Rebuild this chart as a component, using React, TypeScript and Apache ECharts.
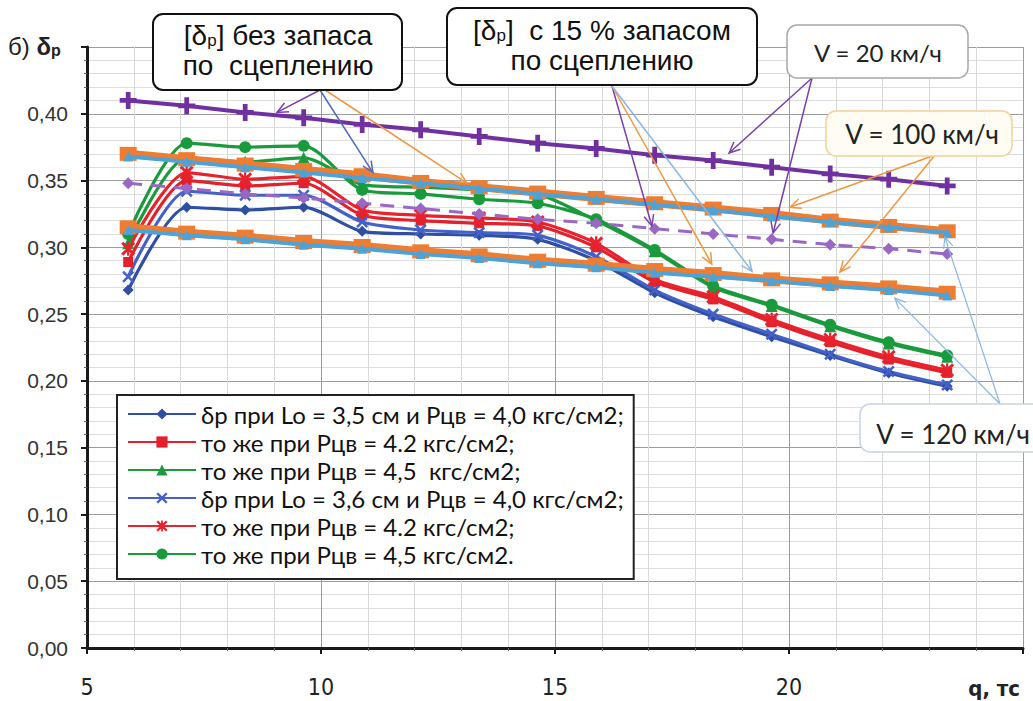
import React, { useEffect, useRef } from 'react';
import * as echarts from 'echarts';

// ---- data ----
const qValues = [5.88, 7.13, 8.38, 9.63, 10.88, 12.13, 13.38, 14.63, 15.88, 17.13, 18.38, 19.63, 20.88, 22.13, 23.38];

const lo35p40 = [0.268, 0.330, 0.328, 0.330, 0.312, 0.310, 0.309, 0.306, 0.290, 0.266, 0.248, 0.233, 0.219, 0.206, 0.196];
const lo35p42 = [0.289, 0.350, 0.346, 0.348, 0.324, 0.320, 0.318, 0.316, 0.300, 0.274, 0.261, 0.244, 0.229, 0.216, 0.206];
const lo35p45 = [0.303, 0.367, 0.364, 0.367, 0.347, 0.345, 0.343, 0.340, 0.320, 0.297, 0.270, 0.256, 0.241, 0.228, 0.218];
const lo36p40 = [0.278, 0.342, 0.339, 0.339, 0.319, 0.313, 0.311, 0.309, 0.293, 0.268, 0.250, 0.235, 0.220, 0.207, 0.197];
const lo36p42 = [0.299, 0.356, 0.351, 0.353, 0.328, 0.324, 0.322, 0.319, 0.303, 0.276, 0.263, 0.246, 0.231, 0.218, 0.208];
const lo36p45 = [0.310, 0.378, 0.375, 0.376, 0.343, 0.340, 0.336, 0.333, 0.321, 0.298, 0.271, 0.257, 0.242, 0.229, 0.219];

const v20Full = [0.410, 0.406, 0.401, 0.397, 0.392, 0.388, 0.383, 0.378, 0.374, 0.369, 0.365, 0.360, 0.355, 0.351, 0.346];
const v20Res = [0.348, 0.344, 0.340, 0.337, 0.333, 0.329, 0.325, 0.321, 0.318, 0.314, 0.310, 0.306, 0.302, 0.299, 0.295];
const v100Full = [0.370, 0.366, 0.362, 0.358, 0.354, 0.349, 0.345, 0.341, 0.337, 0.333, 0.329, 0.325, 0.320, 0.316, 0.312];
const v100Res = [0.315, 0.311, 0.308, 0.304, 0.301, 0.297, 0.294, 0.290, 0.287, 0.283, 0.280, 0.276, 0.273, 0.270, 0.266];
const v120Full = [0.368, 0.364, 0.360, 0.356, 0.352, 0.348, 0.344, 0.340, 0.336, 0.332, 0.328, 0.323, 0.319, 0.315, 0.311];
const v120Res = [0.313, 0.309, 0.306, 0.302, 0.299, 0.295, 0.292, 0.288, 0.285, 0.281, 0.278, 0.275, 0.271, 0.268, 0.264];

const legendKeys = ['a', 'b', 'c', 'd', 'e', 'f'];
const legendLabels = [
  'δр при Lo = 3,5 см и Рцв = 4,0 кгс/см2;',
  'то же при Рцв = 4.2 кгс/см2;',
  'то же при Рцв = 4,5  кгс/см2;',
  'δр при Lo = 3,6 см и Рцв = 4,0 кгс/см2;',
  'то же при Рцв = 4.2 кгс/см2;',
  'то же при Рцв = 4,5 кгс/см2.',
];

const xTicks = [5, 10, 15, 20];

// ---- symbols ----
const plusPath = 'path://M3.6,0H6.4V3.6H10V6.4H6.4V10H3.6V6.4H0V3.6H3.6Z';
const xPath = 'path://M0,1.5L1.5,0L5,3.5L8.5,0L10,1.5L6.5,5L10,8.5L8.5,10L5,6.5L1.5,10L0,8.5L3.5,5Z';
const starPath = xPath + 'M4.2,0H5.8V10H4.2Z';

const ARIAL = "'Liberation Sans', Arial, sans-serif";
const CALIBRI = "Lato, 'Open Sans', sans-serif";
const NARROW = "'Liberation Sans Narrow', 'DejaVu Sans Condensed', sans-serif";

function pts(values: number[]) {
  return qValues.map((q, i) => [q, values[i]]);
}

function dataSeries(name: string, values: number[], color: string, symbol: string, size: number) {
  return {
    name,
    type: 'line',
    data: pts(values),
    smooth: 0.25,
    symbol,
    symbolSize: size,
    lineStyle: { color, width: 3.2 },
    itemStyle: { color },
    z: 2,
  };
}

function arrow(from: number[], to: number[], color: string, w = 1.5) {
  const [x1, y1] = from;
  const [x2, y2] = to;
  const ang = Math.atan2(y2 - y1, x2 - x1);
  const L = 12;
  const a = 0.42;
  const p1 = [x2 - L * Math.cos(ang - a), y2 - L * Math.sin(ang - a)];
  const p2 = [x2 - L * Math.cos(ang + a), y2 - L * Math.sin(ang + a)];
  return [
    { type: 'line', z: 100, shape: { x1, y1, x2, y2 }, style: { stroke: color, lineWidth: w } },
    { type: 'polyline', z: 100, shape: { points: [p1, [x2, y2], p2] }, style: { stroke: color, lineWidth: w, fill: null } },
  ];
}

function box(x: number, y: number, w: number, h: number, stroke: string, lw: number, fill = '#fff') {
  return { type: 'rect', z: 101, shape: { x, y, width: w, height: h, r: 10 }, style: { fill, stroke, lineWidth: lw } };
}

export default function App() {
  const ref = useRef<HTMLDivElement>(null);
  useEffect(() => {
    document.body.style.margin = '0';
    if (!ref.current) return;
    const chart = echarts.init(ref.current, null, { renderer: 'svg' });
    const option: any = {
      animation: false,
      backgroundColor: '#fff',
      grid: { left: 87, right: 10, top: 47, bottom: 53 },
      xAxis: {
        type: 'value',
        min: 5,
        max: 25,
        interval: 5,
        axisLine: { show: true, onZero: false, lineStyle: { color: '#1a1a1a', width: 3 } },
        axisTick: { show: true, length: 6, lineStyle: { color: '#1a1a1a', width: 2 } },
        minorTick: { show: true, splitNumber: 5, length: 3, lineStyle: { color: '#666' } },
        axisLabel: {
          margin: 27,
          fontFamily: NARROW,
          fontSize: 23,
          color: '#222',
          formatter: (v: number) => (xTicks.includes(v) ? String(v) : ''),
        },
        splitLine: { show: true, lineStyle: { color: '#9c9c9c', width: 1 } },
        minorSplitLine: { show: true, lineStyle: { color: '#d8d8d8', width: 1 } },
      },
      yAxis: {
        type: 'value',
        min: 0,
        max: 0.45,
        interval: 0.05,
        axisLine: { show: true, onZero: false, lineStyle: { color: '#1a1a1a', width: 3 } },
        axisTick: { show: true, length: 6, lineStyle: { color: '#1a1a1a', width: 2 } },
        minorTick: { show: true, splitNumber: 5, length: 3, lineStyle: { color: '#666' } },
        axisLabel: {
          margin: 19,
          fontFamily: ARIAL,
          fontSize: 21,
          color: '#333',
          formatter: (v: number) => (v > 0.44 ? '' : v.toFixed(2).replace('.', ',')),
        },
        splitLine: { show: true, lineStyle: { color: '#9c9c9c', width: 1 } },
        minorSplitLine: { show: true, lineStyle: { color: '#dedede', width: 1 } },
      },
      legend: {
        data: legendKeys,
        orient: 'vertical',
        left: 117,
        top: 395,
        itemWidth: 68,
        itemHeight: 14,
        itemGap: 4,
        padding: [7, 10, 13, 10],
        backgroundColor: '#fff',
        borderColor: '#222',
        borderWidth: 2,
        selectedMode: false,
        z: 50,
        formatter: (n: string) => legendLabels[legendKeys.indexOf(n)],
        textStyle: { fontFamily: CALIBRI, fontSize: 24, color: '#111' },
      },
      series: [
        dataSeries('a', lo35p40, '#2f4fa3', 'diamond', 11),
        dataSeries('b', lo35p42, '#e3202b', 'rect', 10),
        dataSeries('c', lo35p45, '#1e9a3e', 'triangle', 12),
        dataSeries('d', lo36p40, '#4361c9', xPath, 12),
        dataSeries('e', lo36p42, '#e8232e', starPath, 14),
        dataSeries('f', lo36p45, '#199a3c', 'circle', 12),
        {
          name: 'v20res', type: 'line', data: pts(v20Res), symbol: 'diamond', symbolSize: 12, z: 3,
          lineStyle: { color: '#9a68c4', width: 3, type: [14, 9] }, itemStyle: { color: '#9a68c4' },
        },
        {
          name: 'v100full', type: 'line', data: pts(v100Full), symbol: 'rect', symbolSize: [17, 14], z: 4,
          lineStyle: { color: '#ee7d32', width: 8 }, itemStyle: { color: '#ee7d32' },
        },
        {
          name: 'v100res', type: 'line', data: pts(v100Res), symbol: 'rect', symbolSize: [17, 14], z: 4,
          lineStyle: { color: '#ee7d32', width: 8 }, itemStyle: { color: '#ee7d32' },
        },
        {
          name: 'v120full', type: 'line', data: pts(v120Full), symbol: 'triangle', symbolSize: 10, z: 5,
          lineStyle: { color: '#4fa2d6', width: 4 }, itemStyle: { color: '#4fa2d6' },
        },
        {
          name: 'v120res', type: 'line', data: pts(v120Res), symbol: 'triangle', symbolSize: 10, z: 5,
          lineStyle: { color: '#4fa2d6', width: 4 }, itemStyle: { color: '#4fa2d6' },
        },
        {
          name: 'v20full', type: 'line', data: pts(v20Full), symbol: plusPath, symbolSize: 17, z: 6,
          lineStyle: { color: '#7030a0', width: 4 }, itemStyle: { color: '#7030a0' },
        },
      ],
    };
    chart.setOption(option);

    const px = (x: number, y: number) => chart.convertToPixel({ gridIndex: 0 }, [x, y]) as number[];
    const purple = '#7b3fae';
    const blue = '#4f69c0';
    const orange = '#f0963f';
    const lblue = '#8cb6e2';

    const b1 = [320, 90];
    const b2 = [612, 86];
    const b3 = [812, 78];
    const b4 = [935, 155];
    const b5 = [1000, 404];

    const richBox = (size: number) => ({
      n: { fontSize: size, fontFamily: ARIAL, lineHeight: 30, fill: '#111' },
      s: { fontSize: Math.round(size * 0.62), fontFamily: ARIAL, lineHeight: 30, padding: [11, 0, 0, 0], fill: '#111' },
    });

    const graphics: any[] = [
      ...arrow(b1, px(9.06, 0.401), purple),
      ...arrow(b1, px(11.11, 0.356), blue),
      ...arrow([325, 90], px(13.12, 0.348), orange),
      ...arrow(b2, px(17.07, 0.316), purple),
      ...arrow(b2, px(18.35, 0.2875), orange),
      ...arrow(b2, px(19.21, 0.282), lblue),
      ...arrow(b3, px(18.72, 0.3706), purple),
      ...arrow(b3, px(19.66, 0.3107), purple),
      ...arrow(b4, px(20.02, 0.33), orange),
      ...arrow(b4, px(21.09, 0.2815), orange),
      ...arrow(b5, px(23.33, 0.3077), lblue, 1.2),
      ...arrow(b5, px(22.26, 0.262), lblue, 1.2),
      box(153, 14, 249, 76, '#111', 2),
      {
        type: 'text', z: 102, x: 278, y: 50,
        style: {
          text: '{n|[δ}{s|р}{n|] без запаса}\n{n|по  сцеплению}',
          align: 'center', verticalAlign: 'middle', fill: '#111',
          rich: richBox(28),
        },
      },
      box(447, 8, 310, 77, '#111', 2),
      {
        type: 'text', z: 102, x: 602, y: 45,
        style: {
          text: '{n|[δ}{s|р}{n|]  с 15 % запасом}\n{n|по сцеплению}',
          align: 'center', verticalAlign: 'middle', fill: '#111',
          rich: richBox(28),
        },
      },
      box(787, 25, 181, 53, '#a8a8a8', 1.5),
      {
        type: 'text', z: 102, x: 878, y: 52,
        style: { text: 'V = 20 км/ч', align: 'center', verticalAlign: 'middle', fontSize: 24, fontFamily: CALIBRI, fill: '#222' },
      },
      box(826, 111, 186, 45, '#f2cf9a', 1.5, '#fffdf3'),
      {
        type: 'text', z: 102, x: 922, y: 134,
        style: { text: 'V = 100 км/ч', align: 'center', verticalAlign: 'middle', fontSize: 26, fontFamily: CALIBRI, fill: '#222' },
      },
      box(860, 404, 190, 48, '#c9d3e3', 1.5),
      {
        type: 'text', z: 102, x: 953, y: 434,
        style: { text: 'V = 120 км/ч', align: 'center', verticalAlign: 'middle', fontSize: 26, fontFamily: CALIBRI, fill: '#222' },
      },
      {
        type: 'text', z: 102, x: 8, y: 46,
        style: {
          text: '{a|б) }{b|δ}{c|р}',
          verticalAlign: 'middle',
          rich: {
            a: { fontSize: 24, fontFamily: ARIAL, fill: '#222' },
            b: { fontSize: 24, fontFamily: ARIAL, fontWeight: 'bold', fill: '#222' },
            c: { fontSize: 16, fontFamily: ARIAL, fontWeight: 'bold', padding: [9, 0, 0, 0], fill: '#222' },
          },
        },
      },
      {
        type: 'text', z: 102, x: 1020, y: 688,
        style: {
          text: 'q, тс', align: 'right', verticalAlign: 'middle',
          fontSize: 22, fontWeight: 'bold', fontFamily: NARROW, fill: '#222',
        },
      },
    ];
    chart.setOption({ graphic: graphics });

    return () => chart.dispose();
  }, []);

  return <div ref={ref} style={{ width: 1033, height: 701 }} />;
}
